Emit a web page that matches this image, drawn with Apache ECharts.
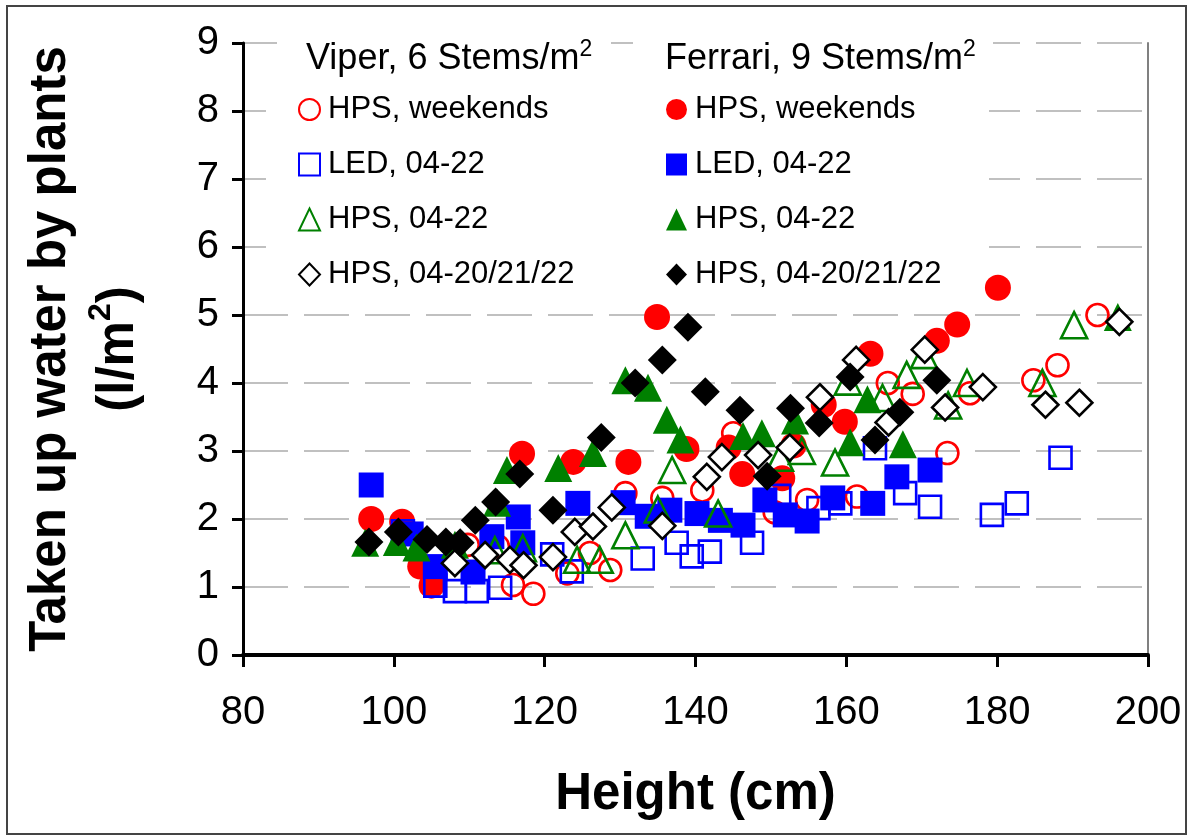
<!DOCTYPE html>
<html><head><meta charset="utf-8">
<script src="https://cdn.jsdelivr.net/npm/echarts@6/dist/echarts.min.js"></script>
<style>html,body{margin:0;padding:0;background:#fff}#c{width:1192px;height:836px}</style>
</head><body><div id="c"></div>
<script>
// ---- data ----
const xTickValues = [80, 100, 120, 140, 160, 180, 200];
const yTickValues = [0, 1, 2, 3, 4, 5, 6, 7, 8, 9];
const groupHeaders = ['Viper, 6 Stems/m', 'Ferrari, 9 Stems/m'];
const seriesLabels = ['HPS, weekends', 'LED, 04-22', 'HPS, 04-22', 'HPS, 04-20/21/22'];
const xTitle = 'Height (cm)';
const yTitleLine1 = 'Taken up water by plants';
const yTitleLine2 = '(l/m';

const viperHpsWeekends = [[109.8,1.62],[113.8,1.6],[115.8,1.03],[118.5,0.9],[123,1.2],[126,1.5],[128.7,1.25],[130.7,2.38],[135.6,2.31],[140.9,2.42],[145,3.26],[150.5,2.1],[154.8,2.28],[161.4,2.33],[165.5,4.0],[168.8,3.84],[173.4,2.97],[176.4,3.85],[184.8,4.04],[188,4.26],[193.3,5.0]];
const ferrariHpsWeekends = [[97,2.0],[101.1,1.96],[103.5,1.3],[105,1.02],[117,2.96],[123.8,2.84],[131.1,2.84],[134.9,4.97],[138.8,3.03],[144.4,3.05],[146.2,2.66],[151.5,2.6],[153,3.08],[157,3.68],[159.8,3.43],[163.2,4.43],[172,4.62],[174.7,4.86],[180.1,5.4]];
const viperLed0422 = [[101.2,1.82],[105.5,1.02],[108.1,0.94],[111,0.94],[114.1,0.99],[121,1.48],[123.6,1.23],[133,1.42],[137.5,1.65],[139.5,1.45],[141.9,1.52],[147.5,1.65],[151.1,2.34],[156.3,2.16],[159.2,2.23],[163.8,3.04],[167.8,2.38],[171.1,2.18],[179.3,2.06],[182.6,2.23],[188.4,2.9]];
const ferrariLed0422 = [[97,2.5],[102.3,1.78],[105.5,1.3],[110.5,1.22],[113,1.74],[116.5,2.03],[117.1,1.65],[124.4,2.23],[130.4,2.24],[133.6,2.04],[136.6,2.13],[140.2,2.08],[143.3,1.98],[146.3,1.91],[149.2,2.28],[151.9,2.06],[154.8,1.97],[158.2,2.31],[163.5,2.23],[166.7,2.62],[171.1,2.72]];
const viperHps0422 = [[113.4,1.54],[117.1,1.57],[124.3,1.4],[127.3,1.4],[130.7,1.76],[135,2.14],[136.9,2.72],[143,2.08],[151.2,2.9],[154.1,3.0],[158.5,2.83],[160.2,4.02],[164.8,3.78],[168,4.12],[170.3,4.41],[173.5,3.67],[176,4.0],[186,4.0],[190.2,4.85]];
const ferrariHps0422 = [[96.2,1.65],[100.4,1.66],[103,1.58],[108.1,1.62],[113.7,2.24],[115,2.72],[121.8,2.75],[126.4,2.97],[130.7,4.04],[133.7,3.93],[136.2,3.46],[138,3.17],[146.3,3.22],[148.8,3.26],[153.2,3.45],[160.5,3.13],[162.8,3.76],[167.5,3.1],[196,4.97]];
const viperHps202122 = [[108.1,1.35],[112.1,1.47],[115.4,1.4],[117.2,1.32],[121.1,1.44],[124,1.81],[126.4,1.89],[128.9,2.17],[135.6,1.9],[141.5,2.62],[143.5,2.91],[148.3,2.94],[152.5,3.05],[156.5,3.79],[161.3,4.34],[165.6,3.42],[170.4,4.49],[173.1,3.64],[178.1,3.94],[186.4,3.68],[190.9,3.71],[196.2,4.9]];
const ferrariHps202122 = [[96.7,1.66],[100.6,1.81],[104.4,1.7],[106.9,1.66],[108.8,1.65],[110.8,1.98],[113.5,2.25],[116.7,2.66],[121.1,2.13],[127.5,3.2],[132,4.0],[135.6,4.34],[139,4.82],[141.3,3.87],[145.9,3.6],[149.5,2.63],[152.6,3.63],[156.4,3.41],[160.5,4.09],[163.8,3.16],[167.1,3.57],[172,4.04]];

// ---- styling / build ----
const FONT = "'Liberation Sans', Arial, sans-serif";
const RED = '#FF0000', BLUE = '#0000FF', GREEN = '#008000', BLACK = '#000000';

function openS(name, data, symbol, color, size, fill) {
  return { name, type: 'scatter', data, symbol, symbolSize: size,
    itemStyle: { color: fill || 'rgba(0,0,0,0)', borderColor: color, borderWidth: 2.6, opacity: 1 },
    emphasis: { disabled: true } };
}
function fillS(name, data, symbol, color, size) {
  return { name, type: 'scatter', data, symbol, symbolSize: size,
    itemStyle: { color, opacity: 1 }, emphasis: { disabled: true } };
}
const V = 'V|', F = 'F|';
const series = [
  openS(V + seriesLabels[0], viperHpsWeekends, 'circle', RED, 22),
  fillS(F + seriesLabels[0], ferrariHpsWeekends, 'circle', RED, 26),
  openS(V + seriesLabels[1], viperLed0422, 'rect', BLUE, 22),
  fillS(F + seriesLabels[1], ferrariLed0422, 'rect', BLUE, 25),
  openS(V + seriesLabels[2], viperHps0422, 'triangle', GREEN, 26),
  fillS(F + seriesLabels[2], ferrariHps0422, 'triangle', GREEN, 28),
  openS(V + seriesLabels[3], viperHps202122, 'diamond', BLACK, 26, '#ffffff'),
  fillS(F + seriesLabels[3], ferrariHps202122, 'diamond', BLACK, 29)
];

function legendCfg(prefix, left) {
  return {
    orient: 'vertical', left, top: 94, padding: 0,
    itemWidth: 21, itemHeight: 22, itemGap: 24,
    selectedMode: false,
    data: seriesLabels.map(l => prefix + l),
    formatter: n => n.split('|')[1],
    textStyle: { fontFamily: FONT, fontSize: 31, lineHeight: 31, color: '#000', padding: [0, 0, 0, 3] }
  };
}

const chart = echarts.init(document.getElementById('c'), null, { renderer: 'canvas' });
chart.setOption({
  backgroundColor: '#fff',
  animation: false,
  grid: { left: 243, right: 44, top: 43, bottom: 181, containLabel: false },
  xAxis: {
    type: 'value', min: xTickValues[0], max: xTickValues[xTickValues.length - 1], interval: 20,
    name: xTitle, nameLocation: 'middle', nameGap: 114,
    nameTextStyle: { fontFamily: FONT, fontSize: 51, fontWeight: 'bold', color: '#000' },
    axisLine: { show: true, onZero: false, lineStyle: { color: '#000', width: 4 } },
    axisTick: { show: true, inside: false, length: 12, lineStyle: { color: '#000', width: 3 } },
    axisLabel: { fontFamily: FONT, fontSize: 40, color: '#000', margin: 38 },
    splitLine: { show: false }
  },
  yAxis: [{
    type: 'value', min: yTickValues[0], max: yTickValues[yTickValues.length - 1], interval: 1,
    name: '{t|' + yTitleLine1 + '}\n{t|' + yTitleLine2 + '}{s|2}{t|)}',
    nameLocation: 'middle', nameGap: 90,
    nameTextStyle: { fontFamily: FONT, color: '#000', align: 'center',
      rich: { t: { fontFamily: FONT, fontSize: 51, fontWeight: 'bold', lineHeight: 68, color: '#000' },
              s: { fontFamily: FONT, fontSize: 32, fontWeight: 'bold', lineHeight: 36, verticalAlign: 'top', color: '#000' } } },
    axisLine: { show: true, lineStyle: { color: '#000', width: 3 } },
    axisTick: { show: true, inside: false, length: 11, lineStyle: { color: '#000', width: 3 } },
    axisLabel: { fontFamily: FONT, fontSize: 40, color: '#000', margin: 24 },
    splitLine: { show: true, lineStyle: { color: '#c0c0c0', width: 2, type: [45, 16] } }
  }, {
    type: 'value', position: 'right', min: 0, max: 9, interval: 1,
    axisLine: { show: true, lineStyle: { color: '#808080', width: 2 } },
    axisTick: { show: false }, axisLabel: { show: false }, splitLine: { show: false }
  }],
  legend: [legendCfg(V, 298), legendCfg(F, 666)],
  graphic: [
    { type: 'rect', z: 1, shape: { x: 266, y: 78, width: 723, height: 222 }, style: { fill: '#fff' } },
    { type: 'rect', z: 1, shape: { x: 277, y: 30, width: 334, height: 50 }, style: { fill: '#fff' } },
    { type: 'rect', z: 1, shape: { x: 633, y: 30, width: 360, height: 50 }, style: { fill: '#fff' } },
    { type: 'text', z: 5, left: 306, top: 38, style: {
        text: '{a|' + groupHeaders[0] + '}{s|2}',
        rich: { a: { fontFamily: FONT, fontSize: 36, lineHeight: 42, fill: '#000' },
                s: { fontFamily: FONT, fontSize: 23, lineHeight: 26, verticalAlign: 'top', fill: '#000' } } } },
    { type: 'text', z: 5, left: 665, top: 38, style: {
        text: '{a|' + groupHeaders[1] + '}{s|2}',
        rich: { a: { fontFamily: FONT, fontSize: 36, lineHeight: 42, fill: '#000' },
                s: { fontFamily: FONT, fontSize: 23, lineHeight: 26, verticalAlign: 'top', fill: '#000' } } } },
    { type: 'rect', z: 10, shape: { x: 7, y: 6, width: 1179, height: 828 }, style: { fill: 'none', stroke: '#444', lineWidth: 2 } }
  ],
  series
});
</script></body></html>
